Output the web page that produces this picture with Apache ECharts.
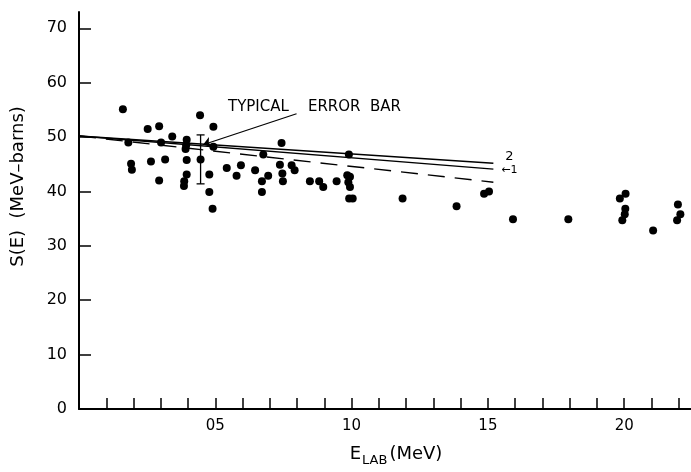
<!DOCTYPE html>
<html>
<head>
<meta charset="utf-8">
<script src="https://cdn.jsdelivr.net/npm/echarts@6/dist/echarts.min.js"></script>
<style>
  html, body { margin: 0; padding: 0; background: #fff; }
  #chart { width: 691px; height: 472px; }
</style>
</head>
<body>
<div id="chart"></div>
<script>
// measured points: E_lab (MeV) vs S(E) (MeV-barns)
const energy = [
  0.161, 0.181, 0.191, 0.194, 0.252, 0.264, 0.294, 0.294, 0.301, 0.316,
  0.342, 0.385, 0.386, 0.391, 0.393, 0.395, 0.395, 0.395, 0.444, 0.446,
  0.478, 0.478, 0.490, 0.493, 0.493, 0.542, 0.578, 0.594, 0.646, 0.671,
  0.671, 0.676, 0.694, 0.737, 0.743, 0.746, 0.748, 0.780, 0.791, 0.847,
  0.881, 0.896, 0.945, 0.984, 0.988, 0.990, 0.991, 0.994, 0.994, 1.004,
  1.187, 1.385, 1.486, 1.504, 1.592, 1.795, 1.984, 1.993, 2.002, 2.004,
  2.005, 2.106, 2.194, 2.197, 2.206
];
const sFactor = [
  55.1, 49.0, 45.1, 44.0, 51.5, 45.5, 52.0, 42.0, 49.0, 45.9,
  50.1, 41.0, 41.9, 47.8, 48.5, 49.5, 45.8, 43.1, 54.0, 45.9,
  43.1, 39.9, 36.8, 51.9, 48.2, 44.3, 42.9, 44.8, 43.9, 41.9,
  39.9, 46.8, 42.9, 44.9, 48.9, 43.3, 41.9, 44.8, 43.9, 41.9,
  41.9, 40.8, 41.9, 43.0, 41.7, 46.8, 38.7, 42.7, 40.8, 38.7,
  38.7, 37.3, 39.6, 40.0, 34.9, 34.9, 38.7, 34.7, 35.8, 36.8,
  39.6, 32.8, 34.7, 37.6, 35.8
];

// theoretical curves (straight lines), start and end
const fitX = [0, 1.52];
const curve1 = [50.2, 44.1];
const curve2 = [50.2, 45.2];
const curveDashed = [50.2, 41.7];

// typical error bar
const errX = [0.446];
const errLow = [41.4];
const errHigh = [50.4];
// pointer from the note to the error bar
const notePointer = [[0.455, 48.6], [0.798, 54.3]];

const yTicks = [10, 20, 30, 40, 50, 60, 70];
const yLabels = [0, 10, 20, 30, 40, 50, 60, 70];
const xTicks = [0.1, 0.2, 0.3, 0.4, 0.5, 0.6, 0.7, 0.8, 0.9, 1.0, 1.1,
                1.2, 1.3, 1.4, 1.5, 1.6, 1.7, 1.8, 1.9, 2.0, 2.1, 2.2];
const xLabels = [0.5, 1.0, 1.5, 2.0];
const xLabelText = ["05", "10", "15", "20"];

const font = "DejaVu Sans";
const ink = "#000";

const chart = echarts.init(document.getElementById("chart"), null, { renderer: "canvas" });

const pairs = (xs, ys) => xs.map((x, i) => [x, ys[i]]);

const option = {
  backgroundColor: "#fff",
  animation: false,
  grid: { left: 79, right: 0, top: 12, bottom: 59 },
  xAxis: {
    type: "value",
    min: 0,
    max: 2.245,
    name: "{e|E}{sub|LAB}{e|(MeV)}",
    nameLocation: "middle",
    nameGap: 33,
    nameTextStyle: {
      padding: [0, 0, 0, 22],
      rich: {
        e: { fontFamily: font, fontSize: 18, color: ink },
        sub: { fontFamily: font, fontSize: 13, color: ink, padding: [12, 2, 0, 1] },
      },
    },
    axisLine: { lineStyle: { color: ink, width: 2 } },
    axisTick: {
      inside: true,
      length: 11,
      customValues: xTicks,
      lineStyle: { color: ink, width: 1.5 },
    },
    axisLabel: {
      customValues: xLabels,
      margin: 10,
      fontFamily: font,
      fontSize: 15,
      color: ink,
      formatter: (v) => {
        const i = xLabels.findIndex((l) => Math.abs(l - v) < 1e-6);
        return i >= 0 ? xLabelText[i] : "";
      },
    },
    splitLine: { show: false },
  },
  yAxis: {
    type: "value",
    min: 0,
    max: 73,
    name: "S(E)  (MeV–barns)",
    nameLocation: "middle",
    nameGap: 52,
    nameTextStyle: {
      fontFamily: font,
      fontSize: 18,
      color: ink,
      padding: [0, 0, 0, 48],
    },
    axisLine: { lineStyle: { color: ink, width: 2 } },
    axisTick: {
      inside: true,
      length: 12,
      customValues: yTicks,
      lineStyle: { color: ink, width: 1.5 },
    },
    axisLabel: {
      customValues: yLabels,
      margin: 12,
      fontFamily: font,
      fontSize: 16,
      color: ink,
    },
    splitLine: { show: false },
  },
  graphic: [
    {
      type: "text",
      left: 228,
      top: 100,
      style: { text: "TYPICAL    ERROR  BAR", font: "15px DejaVu Sans", fill: ink },
    },
  ],
  series: [
    {
      name: "curve 2",
      type: "line",
      data: pairs(fitX, curve2),
      symbol: "none",
      lineStyle: { color: ink, width: 1.4 },
      endLabel: {
        show: true,
        formatter: "2",
        fontFamily: font,
        fontSize: 13,
        color: ink,
        offset: [4, -7],
      },
    },
    {
      name: "curve 1",
      type: "line",
      data: pairs(fitX, curve1),
      symbol: "none",
      lineStyle: { color: ink, width: 1.4 },
      endLabel: {
        show: true,
        formatter: "←1",
        fontFamily: font,
        fontSize: 11,
        color: ink,
        offset: [0, 1],
      },
    },
    {
      name: "dashed",
      type: "line",
      data: pairs(fitX, curveDashed),
      symbol: "none",
      lineStyle: { color: ink, width: 1.4, type: [17, 10] },
    },
    {
      name: "error bar",
      type: "custom",
      data: errX.map((x, i) => [x, errLow[i], errHigh[i]]),
      renderItem: (params, api) => {
        const top = api.coord([api.value(0), api.value(2)]);
        const bot = api.coord([api.value(0), api.value(1)]);
        const style = { stroke: ink, lineWidth: 1.3 };
        const cap = 4;
        return {
          type: "group",
          children: [
            { type: "line", shape: { x1: top[0], y1: top[1], x2: bot[0], y2: bot[1] }, style },
            { type: "line", shape: { x1: top[0] - cap, y1: top[1], x2: top[0] + cap, y2: top[1] }, style },
            { type: "line", shape: { x1: bot[0] - cap, y1: bot[1], x2: bot[0] + cap, y2: bot[1] }, style },
          ],
        };
      },
      markLine: {
        silent: true,
        symbol: ["arrow", "none"],
        symbolSize: 8,
        label: { show: false },
        lineStyle: { color: ink, width: 1.2, type: "solid" },
        data: [[{ coord: notePointer[0] }, { coord: notePointer[1] }]],
      },
      z: 3,
    },
    {
      name: "data",
      type: "scatter",
      data: pairs(energy, sFactor),
      symbol: "circle",
      symbolSize: 8,
      itemStyle: { color: ink, opacity: 1 },
      z: 4,
    },
  ],
};

chart.setOption(option);
</script>
</body>
</html>
